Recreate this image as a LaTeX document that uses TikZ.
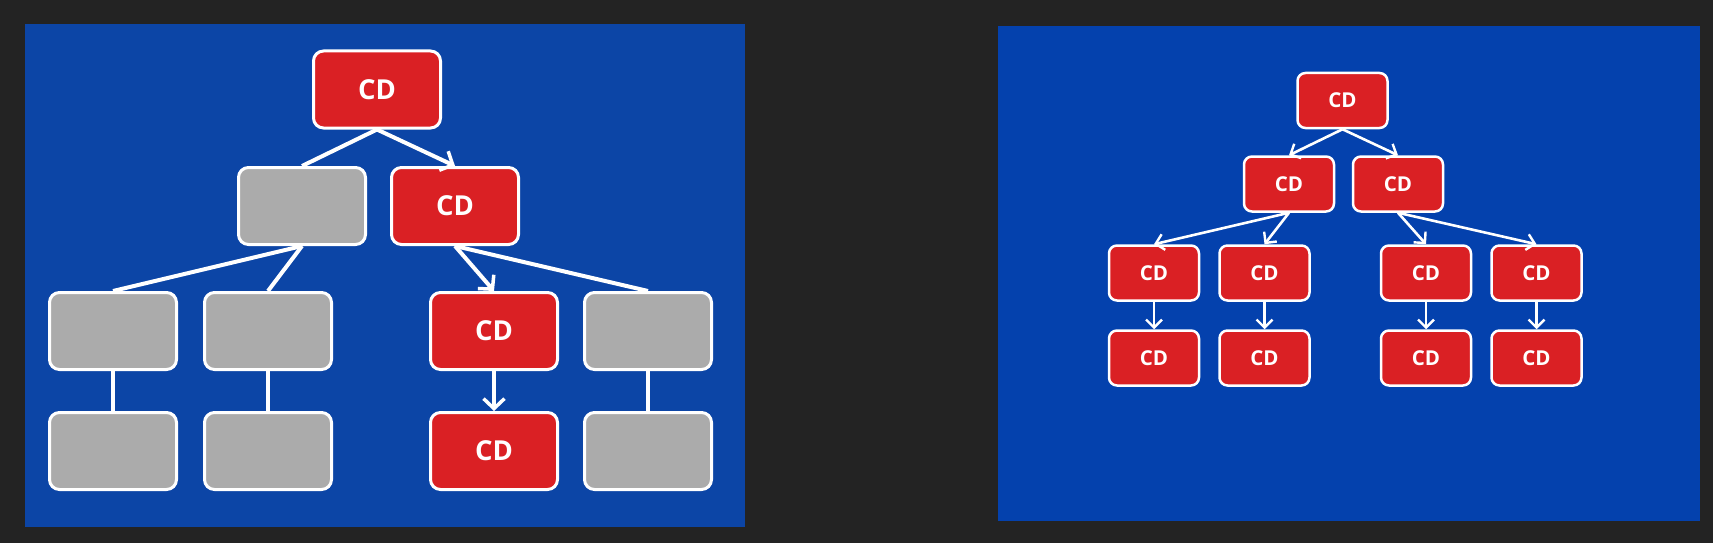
\documentclass[tikz,border=0pt]{standalone}
\usepackage{fontspec}
\setmainfont{Open Sans}[BoldFont={Open Sans Bold}]
\usepackage{tikz}
\usetikzlibrary{arrows.meta}

\begin{document}
\begin{tikzpicture}[x=1pt,y=1pt,yscale=-1,xscale=1,
  bigbox/.style={draw=white, line width=3pt, rounded corners=10pt, minimum width=127pt, minimum height=77pt, inner sep=0pt, text=white, font=\fontsize{27.5}{27.5}\selectfont\bfseries},
  smallbox/.style={draw=white, line width=2.5pt, rounded corners=8pt, minimum width=90pt, minimum height=55pt, inner sep=0pt, text=white, font=\fontsize{20.5}{20.5}\selectfont\bfseries},
  redbox/.style={fill={rgb, 255:red, 218; green, 32; blue, 36}},
  graybox/.style={fill={rgb, 255:red, 171; green, 171; blue, 171}},
  bigline/.style={draw=white, line width=4pt},
  bigarrow/.style={bigline, -{Straight Barb[length=10pt,width=21pt,line width=3.5pt]}},
  smallarrow/.style={draw=white, line width=2.6pt, -{Straight Barb[length=8pt,width=16pt,line width=2.4pt]}}]
\useasboundingbox (0,0) rectangle (1713,543);

%Panels
\fill [fill={rgb, 255:red, 35; green, 35; blue, 35}] (0,0) rectangle (1713,543);
\fill [fill={rgb, 255:red, 12; green, 69; blue, 166}] (25,24) rectangle (745,527);
\fill [fill={rgb, 255:red, 4; green, 65; blue, 173}] (998,26) rectangle (1700,521);

% Text Node
\node [bigbox, redbox] (top) at (377,89.5) {CD};
\node [bigbox, graybox] (midL) at (302,206) {};
\node [bigbox, redbox] (midR) at (455,206) {CD};
\node [bigbox, graybox] (lowA) at (113,331) {};
\node [bigbox, graybox] (lowB) at (268,331) {};
\node [bigbox, redbox] (lowC) at (494,331) {CD};
\node [bigbox, graybox] (lowD) at (648,331) {};
\node [bigbox, graybox] (endA) at (113,451) {};
\node [bigbox, graybox] (endB) at (268,451) {};
\node [bigbox, redbox] (endC) at (494,451) {CD};
\node [bigbox, graybox] (endD) at (648,451) {};

%Straight Lines
\draw [bigline] (top.south) -- (midL.north);
\draw [bigarrow] (top.south) -- (midR.north);
\draw [bigline] (midL.south) -- (lowA.north);
\draw [bigline] (midL.south) -- (lowB.north);
\draw [bigarrow] (midR.south) -- (lowC.north);
\draw [bigline] (midR.south) -- (lowD.north);
\draw [bigline] (lowA) -- (endA);
\draw [bigline] (lowB) -- (endB);
\draw [bigarrow] (lowC) -- (endC);
\draw [bigline] (lowD) -- (endD);

% Text Node
\node [smallbox, redbox] (rtop) at (1342.5,100.5) {CD};
\node [smallbox, redbox] (rmidL) at (1289,184) {CD};
\node [smallbox, redbox] (rmidR) at (1398,184) {CD};
\node [smallbox, redbox] (rlowA) at (1154,273) {CD};
\node [smallbox, redbox] (rlowB) at (1264.5,273) {CD};
\node [smallbox, redbox] (rlowC) at (1426,273) {CD};
\node [smallbox, redbox] (rlowD) at (1536.5,273) {CD};
\node [smallbox, redbox] (rendA) at (1154,358) {CD};
\node [smallbox, redbox] (rendB) at (1264.5,358) {CD};
\node [smallbox, redbox] (rendC) at (1426,358) {CD};
\node [smallbox, redbox] (rendD) at (1536.5,358) {CD};

%Straight Lines
\draw [smallarrow] (rtop.south) -- (rmidL.north);
\draw [smallarrow] (rtop.south) -- (rmidR.north);
\draw [smallarrow] (rmidL.south) -- (rlowA.north);
\draw [smallarrow] (rmidL.south) -- (rlowB.north);
\draw [smallarrow] (rmidR.south) -- (rlowC.north);
\draw [smallarrow] (rmidR.south) -- (rlowD.north);
\draw [smallarrow] (rlowA) -- (rendA);
\draw [smallarrow] (rlowB) -- (rendB);
\draw [smallarrow] (rlowC) -- (rendC);
\draw [smallarrow] (rlowD) -- (rendD);

\end{tikzpicture}
\end{document}
